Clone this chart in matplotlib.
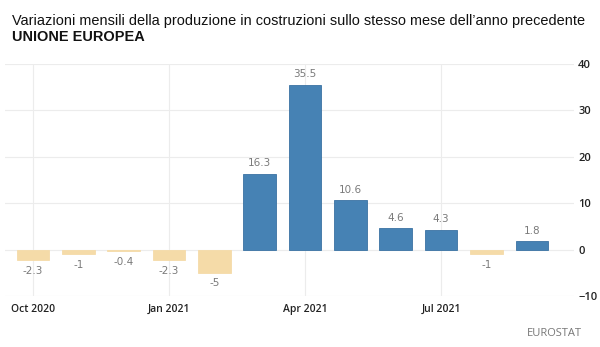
#!/usr/bin/env python3
"""EU construction output, monthly year-on-year change (Eurostat style bars)."""

import matplotlib

matplotlib.use("Agg")

import matplotlib.pyplot as plt
import numpy as np

months = ["Oct 2020", "Nov 2020", "Dec 2020", "Jan 2021", "Feb 2021", "Mar 2021",
          "Apr 2021", "May 2021", "Jun 2021", "Jul 2021", "Aug 2021", "Sep 2021"]
values = [-2.3, -1, -0.4, -2.3, -5, 16.3, 35.5, 10.6, 4.6, 4.3, -1, 1.8]
value_labels = ["-2.3", "-1", "-0.4", "-2.3", "-5", "16.3", "35.5", "10.6", "4.6", "4.3", "-1", "1.8"]
tick_months = ["Oct 2020", "Jan 2021", "Apr 2021", "Jul 2021"]
y_ticks = [-10, 0, 10, 20, 30, 40]

POS = "#4682b4"
NEG = "#f5dba8"
GRID = "#ececec"

fig = plt.figure(figsize=(6.0, 3.47), dpi=100)
ax = fig.add_axes([5 / 600, 51 / 347, 569 / 600, 232 / 347])

x = np.arange(len(values))
colors = [POS if v >= 0 else NEG for v in values]
ax.bar(x, values, width=0.72, color=colors, edgecolor=["#3a72a3" if v >= 0 else NEG for v in values],
       linewidth=0.6, zorder=3)

for xi, v, lab in zip(x, values, value_labels):
    if v >= 0:
        ax.text(xi, v + 1.2, lab, ha="center", va="bottom", fontsize=7.5, color="#7a7a7a",
                family="DejaVu Sans")
    else:
        ax.text(xi, v - 1.2, lab, ha="center", va="top", fontsize=7.5, color="#7a7a7a",
                family="DejaVu Sans")

ax.set_xlim(-0.62, 11.93)
ax.set_ylim(-10, 40)
ax.set_yticks(y_ticks)
ax.set_xticks([months.index(m) for m in tick_months])
ax.set_xticklabels(tick_months)
ax.yaxis.tick_right()
ax.tick_params(axis="y", length=0, pad=3, labelsize=8, labelcolor="#222222")
ax.tick_params(axis="x", length=0, pad=6, labelsize=7.5, labelcolor="#222222")
for lab in ax.get_xticklabels() + ax.get_yticklabels():
    lab.set_family("Open Sans")
    lab.set_fontweight("semibold")

ax.grid(True, axis="both", color=GRID, linewidth=0.8, zorder=0)
for s in ax.spines.values():
    s.set_visible(False)

fig.text(12 / 600, 1 - 25 / 347, "Variazioni mensili della produzione in costruzioni sullo stesso mese dell\u2019anno precedente",
         fontsize=10.45, family="Liberation Sans", color="#111111", va="baseline")
fig.text(12 / 600, 1 - 41 / 347, "UNIONE EUROPEA", fontsize=10.45, family="Liberation Sans",
         fontweight="bold", color="#111111", va="baseline")
fig.text(582 / 600, 1 - 333 / 347, "EUROSTAT", fontsize=8, family="Open Sans",
         color="#777777", ha="right", va="center")

fig.savefig("out.png", dpi=100)
